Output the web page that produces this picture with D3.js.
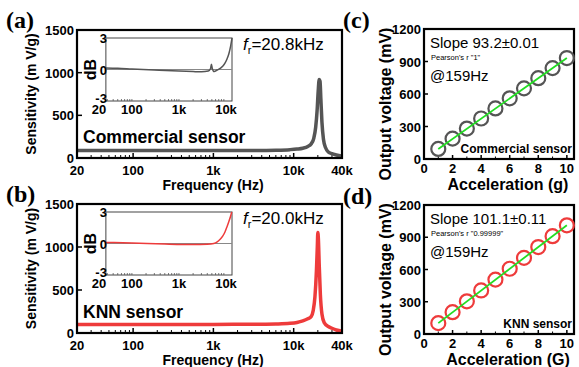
<!DOCTYPE html>
<html>
<head>
<meta charset="utf-8">
<script src="https://cdn.jsdelivr.net/npm/d3@7"></script>
<style>
  body { margin: 0; background: #fff; }
  svg { font-family: "Liberation Sans", Arial, sans-serif; }
</style>
</head>
<body>
<svg id="fig" width="579" height="367"></svg>
<script>
// ---- data ----
const freqTicks = [20, 100, 1000, 10000, 40000];
const freqTickLabels = ["20", "100", "1k", "10k", "40k"];
const sensTicks = [0, 500, 1000, 1500];

// commercial sensor frequency response (Hz, mV/g)
const freqCom = [20, 50, 100, 300, 1000, 3000, 6000, 9000, 11000, 13000, 15000, 16500, 17800, 18800, 19600, 20200, 20800, 21300, 21800, 22500, 23500, 25000, 27000, 30000, 34000, 40000];
const sensCom = [88, 88, 87, 87, 88, 89, 92, 98, 105, 115, 135, 165, 230, 360, 560, 780, 920, 900, 700, 420, 220, 120, 70, 50, 35, 20];

// KNN sensor frequency response
const freqKnn = [20, 50, 100, 300, 1000, 3000, 6000, 9000, 11000, 13000, 15000, 16500, 17500, 18400, 19200, 19700, 20000, 20300, 20800, 21500, 22500, 24000, 27000, 30000, 34000, 40000];
const sensKnn = [100, 100, 99, 99, 100, 101, 105, 112, 122, 140, 165, 190, 260, 420, 720, 1000, 1170, 1100, 800, 450, 220, 120, 75, 55, 35, 20];

// insets: deviation in dB
const inTickVals = [20, 100, 1000, 10000];
const inTickLabels = ["20", "100", "1k", "10k"];
const dbTicks = [-3, 0, 3];
const inFreqCom = [28, 50, 100, 300, 1000, 2000, 3000, 4200, 4700, 4900, 5100, 5600, 6500, 7500, 8500, 9500, 10500, 11500, 12500, 13400];
const inDbCom = [0.15, 0.12, 0.05, -0.05, -0.15, -0.2, -0.22, -0.15, 0.1, 0.5, 0.1, -0.2, -0.05, 0.1, 0.3, 0.6, 1.0, 1.5, 2.2, 3.0];
const inFreqKnn = [28, 100, 500, 2000, 4000, 5500, 6500, 7500, 8500, 9500, 10500, 11500, 12500, 13200];
const inDbKnn = [0.1, 0.05, -0.05, -0.1, -0.08, 0, 0.15, 0.4, 0.7, 1.1, 1.6, 2.1, 2.6, 3.0];

// linearity at 159 Hz
const accel = [1, 2, 3, 4, 5, 6, 7, 8, 9, 10];
const voltCom = [93, 188, 281, 374, 467, 560, 652, 746, 839, 932];
const voltKnn = [101, 203, 304, 405, 506, 607, 708, 809, 910, 1011];
const accelTicks = [0, 2, 4, 6, 8, 10];
const voltTicks = [0, 300, 600, 900, 1200];

const grey = "#555555", red = "#ee3b3b", green = "#22dd22";
const svg = d3.select("#fig");

function label(g, x, y, txt, size, opts = {}) {
  const t = g.append("text").attr("x", x).attr("y", y)
    .attr("font-size", size).attr("font-weight", opts.weight || "bold")
    .attr("text-anchor", opts.anchor || "start").text(txt);
  if (opts.rotate) t.attr("transform", `rotate(-90,${x},${y})`);
  if (opts.family) t.attr("font-family", opts.family);
  return t;
}

function freqPanel(top, bottom, freqs, sens, inF, inD, color, name, fr, tag) {
  const x = d3.scaleLog().domain([20, 40000]).range([77, 342]);
  const y = d3.scaleLinear().domain([0, 1500]).range([bottom, top]);
  const g = svg.append("g");

  // minor ticks along bottom
  const minors = [];
  [10, 100, 1000, 10000].forEach(d => { for (let k = 2; k <= 9; k++) { const v = d * k; if (v > 20 && v < 40000) minors.push(v); } });
  g.selectAll(".mn").data(minors).join("line")
    .attr("x1", d => x(d)).attr("x2", d => x(d))
    .attr("y1", y(0)).attr("y2", y(0) - 3)
    .attr("stroke", "#000").attr("stroke-width", 1);
  g.selectAll(".mj").data(freqTicks).join("line")
    .attr("x1", d => x(d)).attr("x2", d => x(d))
    .attr("y1", y(0)).attr("y2", y(0) - 5)
    .attr("stroke", "#000").attr("stroke-width", 1.5);
  g.selectAll(".yt").data(sensTicks).join("line")
    .attr("x1", x(20)).attr("x2", x(20) + 5)
    .attr("y1", d => y(d)).attr("y2", d => y(d))
    .attr("stroke", "#000").attr("stroke-width", 1.5);

  // curve
  const line = d3.line().x(d => x(d[0])).y(d => y(d[1])).curve(d3.curveMonotoneX);
  g.append("path").datum(d3.zip(freqs, sens)).attr("d", line)
    .attr("fill", "none").attr("stroke", color).attr("stroke-width", 3.5)
    .attr("stroke-linejoin", "round");

  // frame
  g.append("rect").attr("x", x(20)).attr("y", y(1500))
    .attr("width", x(40000) - x(20)).attr("height", y(0) - y(1500))
    .attr("fill", "none").attr("stroke", "#000").attr("stroke-width", 2.2);

  // tick labels
  freqTicks.forEach((d, i) => label(g, x(d), y(0) + 17, freqTickLabels[i], 13, { anchor: "middle" }));
  sensTicks.forEach(d => label(g, x(20) - 3, y(d) + 5, String(d), 13, { anchor: "end" }));

  label(g, 213, bottom + 32, "Frequency (Hz)", 14, { anchor: "middle" });
  label(g, 36, (top + bottom) / 2, "Sensitivity (m V/g)", 14, { anchor: "middle", rotate: true });
  label(g, 83, bottom - 15, name, 17.5);

  const fl = g.append("text").attr("x", 243).attr("y", top + 20).attr("font-size", 17);
  fl.append("tspan").attr("font-style", "italic").text("f");
  fl.append("tspan").attr("font-size", 11).attr("dy", 4).text("r");
  fl.append("tspan").attr("dy", -4).text("=" + fr);

  label(g, 6, top - 2, tag, 24, { family: "Liberation Serif, Times New Roman, serif" });

  // inset
  const xi = d3.scaleLog().domain([20, 13400]).range([99, 232]);
  const yi = d3.scaleLinear().domain([-3, 3]).range([top + 71, top + 8]);
  const gi = svg.append("g");
  const l0 = xi(28), r0 = xi(13400);
  gi.append("rect").attr("x", l0).attr("y", yi(3)).attr("width", r0 - l0).attr("height", yi(-3) - yi(3))
    .attr("fill", "#fff").attr("stroke", "#444").attr("stroke-width", 1);
  gi.append("line").attr("x1", l0).attr("x2", r0).attr("y1", yi(0)).attr("y2", yi(0))
    .attr("stroke", "#888").attr("stroke-width", 1);
  const imin = [];
  [10, 100, 1000].forEach(d => { for (let k = 1; k <= 9; k++) { const v = d * k; if (v > 28 && v < 13400) imin.push(v); } });
  gi.selectAll(".im").data(imin).join("line")
    .attr("x1", d => xi(d)).attr("x2", d => xi(d))
    .attr("y1", yi(-3)).attr("y2", yi(-3) - 2)
    .attr("stroke", "#555").attr("stroke-width", 0.8);
  const iline = d3.line().x(d => xi(d[0])).y(d => yi(d[1])).curve(d3.curveMonotoneX);
  gi.append("path").datum(d3.zip(inF, inD)).attr("d", iline)
    .attr("fill", "none").attr("stroke", color).attr("stroke-width", 1.5);
  inTickVals.forEach((d, i) => label(gi, xi(d), yi(-3) + 13, inTickLabels[i], 13, { anchor: "middle" }));
  dbTicks.forEach(d => label(gi, l0 + 1, yi(d) + (d === -3 ? 2 : 5), String(d), 13, { anchor: "end" }));
  label(gi, 96, yi(0), "dB", 16, { anchor: "middle", rotate: true });
}

function linPanel(top, bottom, volts, color, name, slope, pearson, tag, xTitle) {
  const x = d3.scaleLinear().domain([0, 10.5]).range([424, 574]);
  const y = d3.scaleLinear().domain([0, 1200]).range([bottom, top]);
  const g = svg.append("g");

  g.selectAll(".xt").data(accelTicks).join("line")
    .attr("x1", d => x(d)).attr("x2", d => x(d)).attr("y1", y(0)).attr("y2", y(0) - 4)
    .attr("stroke", "#000").attr("stroke-width", 1.5);
  g.selectAll(".xm").data(d3.range(1, 11, 2)).join("line")
    .attr("x1", d => x(d)).attr("x2", d => x(d)).attr("y1", y(0)).attr("y2", y(0) - 2.5)
    .attr("stroke", "#000").attr("stroke-width", 1);
  g.selectAll(".yt").data(voltTicks).join("line")
    .attr("x1", x(0)).attr("x2", x(0) + 4).attr("y1", d => y(d)).attr("y2", d => y(d))
    .attr("stroke", "#000").attr("stroke-width", 1.5);

  g.append("rect").attr("x", x(0)).attr("y", y(1200))
    .attr("width", x(10.5) - x(0)).attr("height", y(0) - y(1200))
    .attr("fill", "none").attr("stroke", "#000").attr("stroke-width", 2.2);

  g.selectAll("circle").data(d3.zip(accel, volts)).join("circle")
    .attr("cx", d => x(d[0])).attr("cy", d => y(d[1])).attr("r", 7)
    .attr("fill", "none").attr("stroke", color).attr("stroke-width", 2.2);
  g.append("line")
    .attr("x1", x(accel[0])).attr("y1", y(volts[0]))
    .attr("x2", x(accel[accel.length - 1])).attr("y2", y(volts[volts.length - 1]))
    .attr("stroke", green).attr("stroke-width", 1.8);

  accelTicks.forEach(d => label(g, x(d), y(0) + 14, String(d), 13, { anchor: "middle" }));
  voltTicks.forEach(d => label(g, x(0) - 3, y(d) + 5, String(d), 13, { anchor: "end" }));

  label(g, 430, top + 19, "Slope " + slope, 15, { weight: "normal" });
  label(g, 431, top + 31, "Pearson's r \"" + pearson + "\"", 7.5, { weight: "normal" });
  label(g, 430, top + 52, "@159Hz", 15, { weight: "normal" });
  label(g, 572, bottom - 6, name, 12, { anchor: "end" });

  label(g, 508, bottom + 31, xTitle, 16, { anchor: "middle" });
  label(g, 391, (top + bottom) / 2 + 10, "Output voltage (mV)", 16, { anchor: "middle", rotate: true });
  label(g, 343, top - 1, tag, 24, { family: "Liberation Serif, Times New Roman, serif" });
}

freqPanel(30, 158, freqCom, sensCom, inFreqCom, inDbCom, grey, "Commercial sensor", "20.8kHz", "(a)");
freqPanel(204, 333, freqKnn, sensKnn, inFreqKnn, inDbKnn, red, "KNN sensor", "20.0kHz", "(b)");
linPanel(29, 159, voltCom, grey, "Commercial sensor", "93.2\u00b10.01", "1", "(c)", "Acceleration (g)");
linPanel(205, 334, voltKnn, red, "KNN sensor", "101.1\u00b10.11", "0.99999", "(d)", "Acceleration (G)");
</script>
</body>
</html>
